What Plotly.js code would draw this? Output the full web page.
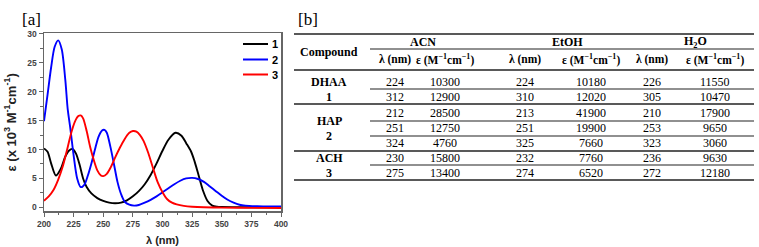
<!DOCTYPE html>
<html><head><meta charset="utf-8">
<script src="https://cdn.plot.ly/plotly-3.0.1.min.js"></script>
<style>html,body{margin:0;padding:0;background:#fff}#chart{width:759px;height:247px}</style>
</head><body><div id="chart"></div>
<script>
// ---- spectra data ----
const seriesNames = ["1", "2", "3"];
const seriesColors = ["#000000", "#0000ff", "#ff0000"];
const lambda1 = [200,203,206,210,214,218,221,224,227,230,233,236,240,245,250,255,260,265,270,275,280,285,290,295,300,305,311,316,320,324,327,330,334,338,342,346,350,360,380,400];
const eps1 = [10.2,9.6,7.6,5.5,6.6,8.8,9.8,10.1,9.3,7.4,5.0,3.5,2.4,1.6,1.1,0.8,0.7,0.8,1.2,1.9,2.8,4.0,5.6,7.6,9.8,11.7,12.9,12.4,11.1,9.7,8.0,5.9,3.0,1.1,0.3,0.1,0.05,0.03,0.02,0.02];
const lambda2 = [200,203,206,209,212,215,218,220,222,225,228,231,234,237,240,243,246,249,251,253,256,259,262,265,268,272,276,280,285,290,295,300,305,310,315,320,325,330,335,340,345,350,355,360,365,370,380,390,400];
const eps2 = [14.9,19.5,24.2,27.8,28.9,27.3,22.0,17.0,14.0,9.0,5.0,3.5,3.9,5.5,7.6,10.0,12.2,13.3,13.4,12.9,10.5,7.5,4.4,2.3,1.0,0.45,0.3,0.4,0.8,1.3,1.9,2.6,3.3,4.0,4.6,5.0,5.1,4.9,4.4,3.6,2.8,2.0,1.3,0.8,0.45,0.3,0.2,0.15,0.15];
const lambda3 = [200,204,208,212,216,220,223,226,229,231,233,236,239,242,245,248,250,253,256,260,264,268,272,275,278,281,284,288,292,296,300,304,308,312,318,325,335,350,375,400];
const eps3 = [1.15,1.9,3.0,4.8,7.2,10.4,12.9,14.8,15.8,15.9,15.4,13.2,10.4,8.2,6.4,5.5,5.4,5.8,6.8,8.6,10.3,11.8,12.9,13.2,13.1,12.5,11.5,9.4,6.8,4.3,2.6,1.4,0.8,0.5,0.25,0.1,0.0,-0.05,-0.1,-0.12];
const xTickVals = [200,225,250,275,300,325,350,375,400];
const yTickVals = [0,5,10,15,20,25,30];

// ---- table data ----
const compoundNames = ["DHAA", "HAP", "ACH"];
const compoundNums = ["1", "2", "3"];
const solventNames = ["ACN", "EtOH", "H<sub>2</sub>O"];
const subHeaders = ["λ (nm)", "ε (M<sup>−1</sup>cm<sup>−1</sup>)"];
const rowCompound = [0,0,1,1,1,2,2];
const lamACN = [224,312,212,251,324,230,275];
const epsACN = [10300,12900,28500,12750,4760,15800,13400];
const lamEtOH = [224,310,213,251,325,232,274];
const epsEtOH = [10180,12020,41900,19900,7660,7760,6520];
const lamH2O = [226,305,210,253,323,236,272];
const epsH2O = [11550,10470,17900,9650,3060,9630,12180];

// ---- layout helpers (pixel -> paper) ----
const W = 759, H = 247;
const px = v => v / W, py = v => 1 - v / H;

const xs = [lambda1, lambda2, lambda3], ys = [eps1, eps2, eps3];
const traces = xs.map((x, i) => ({
  x: x, y: ys[i], type: 'scatter', mode: 'lines', name: seriesNames[i],
  line: {color: seriesColors[i], width: 1.9, shape: 'spline', smoothing: 0.8},
  showlegend: false, hoverinfo: 'skip'
}));

const annotations = [];
const shapes = [];
const serif = "'Liberation Serif', 'Times New Roman', serif";
const sans = "'Liberation Sans', Arial, sans-serif";

// panel labels
annotations.push({text: "[a]", xref: 'paper', yref: 'paper', x: px(20), y: py(20), xanchor: 'left', yanchor: 'middle', showarrow: false, font: {family: serif, size: 17, color: '#000'}});
annotations.push({text: "[b]", xref: 'paper', yref: 'paper', x: px(296), y: py(20), xanchor: 'left', yanchor: 'middle', showarrow: false, font: {family: serif, size: 17, color: '#000'}});

// manual legend
const legY = [44, 59.5, 74.5];
seriesNames.forEach((n, i) => {
  shapes.push({type: 'line', xref: 'paper', yref: 'paper', x0: px(243), x1: px(268), y0: py(legY[i]), y1: py(legY[i]), line: {color: seriesColors[i], width: 2}});
  annotations.push({text: "<b>" + n + "</b>", xref: 'paper', yref: 'paper', x: px(270), y: py(legY[i]), xanchor: 'left', yanchor: 'middle', showarrow: false, font: {family: sans, size: 11, color: '#000'}});
});

// table geometry
const tL = 294, tR = 754, tSub = 370;
const colX = [395, 445, 525, 591, 652, 715];
const groupX = [423, 567, 695];
const rowY = [82, 97, 113, 128, 143, 158, 173];
const compY = [[82, 97], [121, 136], [158, 173]];
const fullRules = [34, 70, 104, 151, 180];
const partRules = [49, 89, 121, 136, 165];
fullRules.forEach(y => shapes.push({type: 'line', xref: 'paper', yref: 'paper', x0: px(tL), x1: px(tR), y0: py(y), y1: py(y), line: {color: '#222', width: 1.3}}));
partRules.forEach(y => shapes.push({type: 'line', xref: 'paper', yref: 'paper', x0: px(tSub), x1: px(tR), y0: py(y), y1: py(y), line: {color: '#222', width: 1.1}}));

function cell(txt, x, y, bold, size) {
  annotations.push({text: bold ? "<b>" + txt + "</b>" : String(txt), xref: 'paper', yref: 'paper', x: px(x), y: py(y), xanchor: 'center', yanchor: 'middle', showarrow: false, font: {family: serif, size: size || 12, color: '#000'}});
}
cell("Compound", 329, 52, true, 12);
solventNames.forEach((s, i) => cell(s, groupX[i], 42, true, 12));
solventNames.forEach((s, i) => { cell(subHeaders[0], colX[2*i], 60, true, 11.5); cell(subHeaders[1], colX[2*i+1], 60, true, 11.5); });
compoundNames.forEach((c, i) => { cell(c, 329, compY[i][0], true, 12); cell(compoundNums[i], 329, compY[i][1], true, 12); });
const cols = [lamACN, epsACN, lamEtOH, epsEtOH, lamH2O, epsH2O];
cols.forEach((col, j) => col.forEach((v, r) => cell(v, colX[j], rowY[r], false, 12)));

const axisFont = {family: sans, size: 8.5, color: '#444', weight: 'bold'};
const layout = {
  width: W, height: H, margin: {l: 0, r: 0, t: 0, b: 0},
  paper_bgcolor: '#fff', plot_bgcolor: '#fff', showlegend: false,
  xaxis: {domain: [px(44), px(281)], range: [200, 400], tickvals: xTickVals, ticks: 'outside', ticklen: 4, tickwidth: 1, tickcolor: '#666',
    minor: {dtick: 12.5, ticks: 'outside', ticklen: 2.5, tickcolor: '#666', showgrid: false},
    showline: true, mirror: true, linecolor: '#666', linewidth: 1.3, showgrid: false, zeroline: false,
    tickfont: axisFont, title: {text: "<b>λ (nm)</b>", font: {family: sans, size: 11, color: '#222'}, standoff: 8}},
  yaxis: {domain: [1 - 211.3/H, 1 - 33.3/H], range: [-0.69, 30.12], tickvals: yTickVals, ticks: 'outside', ticklen: 4, tickwidth: 1, tickcolor: '#666',
    minor: {dtick: 2.5, ticks: 'outside', ticklen: 2.5, tickcolor: '#666', showgrid: false},
    showline: true, mirror: true, linecolor: '#666', linewidth: 1.5, showgrid: false, zeroline: false,
    tickfont: axisFont, title: {text: "<b>ε (x 10<sup>3</sup> M<sup>-1</sup>cm<sup>-1</sup>)</b>", font: {family: sans, size: 13, color: '#222'}, standoff: 8}},
  annotations: annotations, shapes: shapes
};
Plotly.newPlot('chart', traces, layout, {displayModeBar: false, staticPlot: true});
</script></body></html>
